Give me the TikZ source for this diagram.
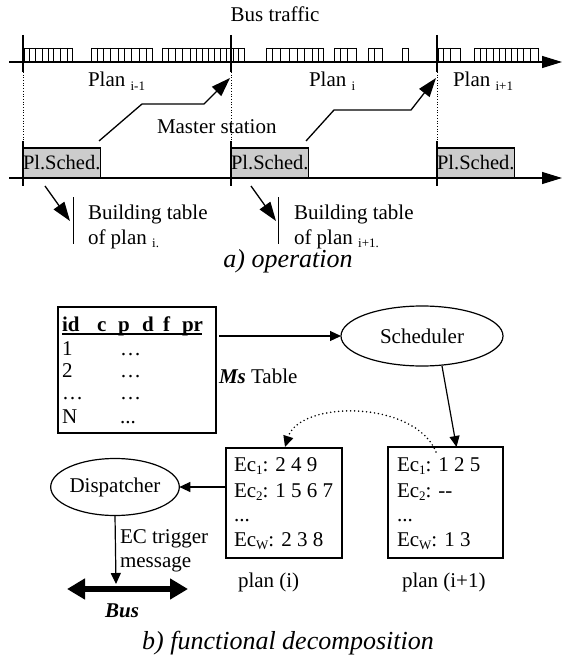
\documentclass[tikz,border=0pt]{standalone}
\usepackage{fontspec}
\setmainfont{Liberation Serif}
\usetikzlibrary{arrows.meta,shapes.geometric}
\newcommand\lowsub[1]{\raisebox{-0.35ex}{\fontsize{13}{13}\selectfont #1}}
\begin{document}
\begin{tikzpicture}[x=1pt,y=-1pt,
  font=\fontsize{21}{25}\selectfont,
  every node/.style={inner sep=0pt, outer sep=0pt},
  tickln/.style={line width=1.2pt},
  pulse/.style={line width=0.8pt},
  guide/.style={line width=0.7pt, dotted},
  axisarr/.style={line width=1.2pt, -{Triangle[length=20pt,width=12pt]}},
  bigarr/.style={line width=1.3pt, -{Triangle[length=19pt,width=13pt]}},
  arr/.style={line width=1.2pt, -{Triangle[length=11pt,width=10pt]}},
  boxed/.style={draw, line width=1.3pt},
  sched/.style={draw, fill=black!20, line width=1.2pt, minimum width=77.5pt, minimum height=30pt, anchor=south west, font=\fontsize{20.5}{24}\selectfont},
  lbl/.style={anchor=base west},
  captxt/.style={anchor=base, font=\fontsize{26}{30}\selectfont\itshape}
]
\useasboundingbox (0,0) rectangle (563,658);

% ---------- a) operation ----------
\node[anchor=base] (bt) at (275,22) {Bus traffic};

% pulses
\foreach \vs in {{24,29,35,42,48,53,60,67,72},
                 {91,97,103,110,118,124,131,139,146,152},
                 {162,168,175,182,190,196,202,208,214,220,226,233,238,244},
                 {266,272,280,289,297,304,312,318,323},
                 {334,340,347,356},
                 {368,374,382},
                 {402,408},
                 {438,443,450,460},
                 {474,480,486,493,499,505,511,517,523,530,538}}{
  \foreach \v [remember=\v as \lastv (initially -1)] in \vs {
    \ifnum\lastv>0 \draw[pulse] (\lastv,48) -- (\v,48);\fi
    \draw[pulse] (\v,48) -- (\v,62);
  }
}

\coordinate (ax1s) at (9,62);
\coordinate (ax1e) at (562,62);
\draw[axisarr] (ax1s) -- (ax1e);
\foreach \x/\n in {23/a,231/b,437/c}{
  \coordinate (t1\n) at (\x,35);
  \coordinate (b1\n) at (\x,72);
  \draw[tickln] (t1\n) -- (b1\n);
  \coordinate (t2\n) at (\x,141);
  \coordinate (b2\n) at (\x,186);
  \draw[tickln] (t2\n) -- (b2\n);
  \draw[guide] (b1\n) -- (t2\n);
}

\node[lbl] (pl1) at (88,87) {Plan \lowsub{i-1}};
\node[lbl] (pl2) at (309,87) {Plan \lowsub{i}};
\node[lbl] (pl3) at (453,87) {Plan \lowsub{i+1}};

\node[lbl] (ms) at (157,134) {Master station};

\coordinate (ax2s) at (9,178);
\coordinate (ax2e) at (562,178);
\draw[axisarr] (ax2s) -- (ax2e);

\node[sched] (ps1) at (23,178) {Pl.Sched.};
\node[sched] (ps2) at (231,178) {Pl.Sched.};
\node[sched] (ps3) at (437,178) {Pl.Sched.};

% master station arrows
\coordinate (m1a) at (99,141);
\coordinate (m1b) at (142,104);
\coordinate (m1c) at (204,104);
\coordinate (m1t) at (230,78);
\draw[bigarr] (m1a) -- (m1b) -- (m1c) -- (m1t);
\coordinate (m2a) at (306,141);
\coordinate (m2b) at (334,110);
\coordinate (m2c) at (411,110);
\coordinate (m2t) at (436,78);
\draw[bigarr] (m2a) -- (m2b) -- (m2c) -- (m2t);

% building table
\coordinate (bt1a) at (45,186);
\coordinate (bt1t) at (70,221);
\draw[bigarr] (bt1a) -- (bt1t);
\coordinate (v1a) at (73.5,197);
\coordinate (v1b) at (73.5,244);
\draw[line width=1pt] (v1a) -- (v1b);
\node[lbl] (bta1) at (88,219) {Building table};
\node[lbl] (btb1) at (88,244) {of plan \lowsub{i.}};

\coordinate (bt2a) at (251,186);
\coordinate (bt2t) at (276,221);
\draw[bigarr] (bt2a) -- (bt2t);
\coordinate (v2a) at (278.5,197);
\coordinate (v2b) at (278.5,244);
\draw[line width=1pt] (v2a) -- (v2b);
\node[lbl] (bta2) at (294,219) {Building table};
\node[lbl] (btb2) at (294,244) {of plan \lowsub{i+1.}};

\node[captxt] (capa) at (288,267) {a) operation};

% ---------- b) functional decomposition ----------
\node[boxed, minimum width=158pt, minimum height=126pt, anchor=north west] (tbl) at (58,307) {};
\begin{scope}[font=\fontsize{21}{25}\selectfont\bfseries]
\node[lbl] (hid) at (62,331) {id};
\node[lbl] (hc) at (97,331) {c};
\node[lbl] (hp) at (118,331) {p};
\node[lbl] (hd) at (142,331) {d};
\node[lbl] (hf) at (163,331) {f};
\node[lbl] (hpr) at (182,331) {pr};
\end{scope}
\draw[line width=1.2pt] (hid.base west) ++(0,3) -- ++(140,0);
\node[lbl] (r1a) at (62,355) {1};
\node[lbl] (r1b) at (120,355) {…};
\node[lbl] (r2a) at (62,377) {2};
\node[lbl] (r2b) at (120,377) {…};
\node[lbl] (r3a) at (62,399) {…};
\node[lbl] (r3b) at (120,399) {…};
\node[lbl] (r4a) at (62,423) {N};
\node[lbl] (r4b) at (120,423) {...};

\node[lbl] (mst) at (219,383) {\textbf{\textit{Ms}} Table};

\node[draw, ellipse, line width=1.2pt, minimum width=162pt, minimum height=60pt] (schd) at (422,336) {Scheduler};
\coordinate (tblout) at (219,336);
\draw[arr] (tblout) -- (schd.west);

\node[boxed, minimum width=116pt, minimum height=110pt, anchor=north west] (pli) at (226,448) {};
\node[boxed, minimum width=115pt, minimum height=111pt, anchor=north west] (plj) at (388,447) {};

\node[lbl] (e1i) at (234,471) {Ec\lowsub{1}: 2 4 9};
\node[lbl] (e2i) at (234,497) {Ec\lowsub{2}: 1 5 6 7};
\node[lbl] (e3i) at (234,521) {...};
\node[lbl] (e4i) at (234,546) {Ec\lowsub{W}: 2 3 8};
\node[lbl] (e1j) at (397,471) {Ec\lowsub{1}: 1 2 5};
\node[lbl] (e2j) at (397,497) {Ec\lowsub{2}: -{}-};
\node[lbl] (e3j) at (397,521) {...};
\node[lbl] (e4j) at (397,546) {Ec\lowsub{W}: 1 3};

\node[lbl] (npi) at (238,587) {plan (i)};
\node[lbl] (npj) at (402,587) {plan (i+1)};

\coordinate (schout) at (442,366);
\coordinate (pljin) at (456.5,447);
\draw[arr] (schout) -- (pljin);

\coordinate (dots) at (436,452);
\coordinate (pliin) at (285,447);
\draw[line width=1.7pt, line cap=round, dash pattern=on 0pt off 4pt, -{Triangle[length=11pt,width=10pt]}]
  (dots) .. controls (415,400) and (300,400) .. (pliin);

\node[draw, ellipse, line width=1.2pt, minimum width=124pt, minimum height=57pt] (disp) at (115,487) {Dispatcher};
\draw[arr] (pli.west |- disp.east) -- (disp.east);

\coordinate (busl) at (67,589);
\coordinate (busr) at (188,589);
\draw[line width=6pt, {Triangle[length=18pt,width=20pt]}-{Triangle[length=18pt,width=20pt]}] (busl) -- (busr);
\coordinate (busin) at (116,584);
\draw[arr] (disp.south) -- (busin);
\node[anchor=base, font=\fontsize{21}{25}\selectfont\bfseries\itshape] (bus) at (122,617) {Bus};
\node[lbl] (ec1) at (120,543) {EC trigger};
\node[lbl] (ec2) at (120,567) {message};

\node[captxt] (capb) at (288,649) {b) functional decomposition};
\end{tikzpicture}
\end{document}
